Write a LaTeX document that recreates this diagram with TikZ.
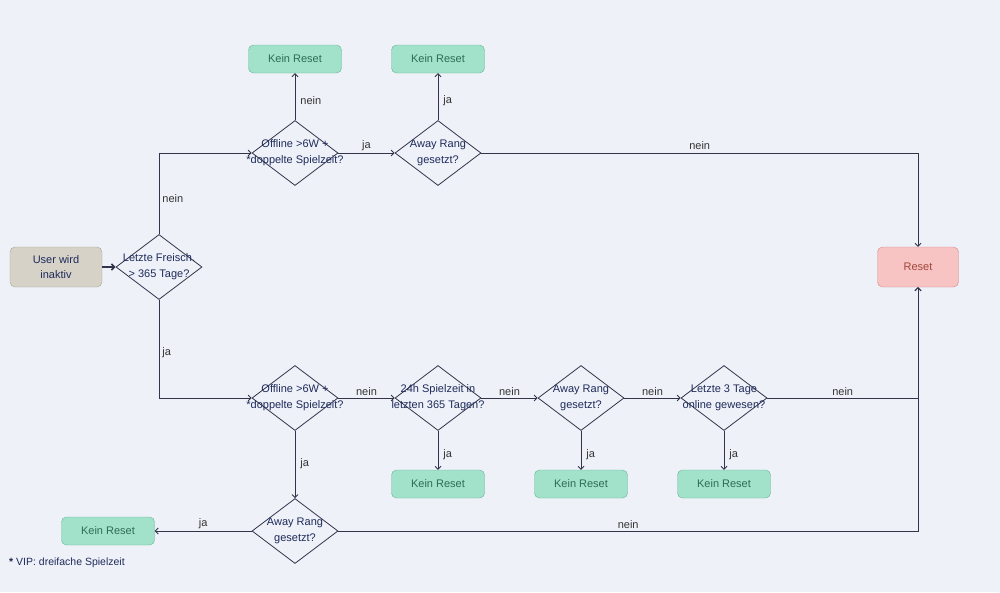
\documentclass[tikz,border=0pt]{standalone}
\usepackage{fontspec}
\setmainfont{Liberation Sans}
\usetikzlibrary{shapes.geometric,arrows.meta}

\definecolor{bgcol}{HTML}{EEF2F8}
\definecolor{linecol}{HTML}{33334A}
\definecolor{navy}{HTML}{1E2A5A}
\definecolor{krfill}{HTML}{A2E2CB}
\definecolor{krdraw}{HTML}{62B492}
\definecolor{krtext}{HTML}{2E6B52}
\definecolor{rsfill}{HTML}{F7C3C3}
\definecolor{rsdraw}{HTML}{CF8A8A}
\definecolor{rstext}{HTML}{A0463A}
\definecolor{stfill}{HTML}{D6D2C8}
\definecolor{stdraw}{HTML}{A8A498}

\tikzset{
  txt/.style={font=\fontsize{11}{15}\selectfont, align=center},
  kein/.style={txt, draw=krdraw, fill=krfill, text=krtext, rounded corners=5pt,
    minimum width=93pt, minimum height=28pt, inner sep=0pt},
  resetbox/.style={txt, draw=rsdraw, fill=rsfill, text=rstext, rounded corners=5pt,
    minimum width=81pt, minimum height=40pt, inner sep=0pt},
  startbox/.style={txt, draw=stdraw, fill=stfill, text=navy, rounded corners=5pt,
    minimum width=92pt, minimum height=40pt, inner sep=0pt},
  dec/.style={shape=diamond, draw=linecol, line width=0.8pt, fill=bgcol,
    minimum width=86pt, minimum height=65pt, inner sep=0pt},
  dtext/.style={txt, font=\fontsize{11}{16}\selectfont, text=navy, inner sep=0pt},
  arr/.style={draw=linecol, line width=0.8pt, -{Straight Barb[length=3pt,width=6pt]}},
  lab/.style={font=\fontsize{11}{13}\selectfont, text=black!80, inner sep=3pt},
}

\begin{document}
\begin{tikzpicture}[x=1pt,y=-1pt]
% Hintergrund
\fill[bgcol] (0,0) rectangle (1000,592);
\useasboundingbox (0,0) rectangle (1000,592);

% Start und erste Entscheidung
\node[startbox] (start) at (56,267) {User wird\\inaktiv};
\node[dec] (freisch) at (159,267) {};
\node[dtext] at (freisch) {Letzte Freisch.\\> 365 Tage?};
\draw[arr, line width=1.6pt] (start) -- (freisch);

% Oberer Zweig
\node[dec] (offA) at (295,153) {};
\node[dtext] at (offA) {Offline >6W +\\*doppelte Spielzeit?};
\node[dec] (awayA) at (438,153) {};
\node[dtext] at (awayA) {Away Rang\\gesetzt?};
\node[kein] (krA) at (295,59) {Kein Reset};
\node[kein] (krB) at (438,59) {Kein Reset};
\node[resetbox] (reset) at (918,267) {Reset};

\draw[arr] (freisch.north) |- (offA.west) node[lab, pos=0.22, right] {nein};
\draw[arr] (offA.north) -- (krA.south) node[lab, midway, right, xshift=2pt, yshift=-4pt] {nein};
\draw[arr] (offA.east) -- (awayA.west) node[lab, midway, above, yshift=-1pt] {ja};
\draw[arr] (awayA.north) -- (krB.south) node[lab, midway, right, xshift=2pt, yshift=-4pt] {ja};
\draw[arr] (awayA.east) -| (reset.north) node[lab, pos=0.25, above] {nein};

% Unterer Zweig
\node[dec] (offB) at (295,398) {};
\node[dtext] at (offB) {Offline >6W +\\*doppelte Spielzeit?};
\node[dec] (spiel) at (438,398) {};
\node[dtext] at (spiel) {24h Spielzeit in\\letzten 365 Tagen?};
\node[dec] (awayB) at (581,398) {};
\node[dtext] at (awayB) {Away Rang\\gesetzt?};
\node[dec] (online) at (724,398) {};
\node[dtext] at (online) {Letzte 3 Tage\\online gewesen?};
\node[dec] (awayC) at (295,531) {};
\node[dtext] at (awayC) {Away Rang\\gesetzt?};
\node[kein] (krC) at (438,484) {Kein Reset};
\node[kein] (krD) at (581,484) {Kein Reset};
\node[kein] (krE) at (724,484) {Kein Reset};
\node[kein] (krF) at (108,531) {Kein Reset};

\draw[arr] (freisch.south) |- (offB.west) node[lab, pos=0.27, right] {ja};
\foreach \a/\b in {offB/spiel, spiel/awayB, awayB/online}
  \draw[arr] (\a.east) -- (\b.west) node[lab, midway, above, yshift=-1pt] {nein};
\foreach \a/\b in {spiel/krC, awayB/krD, online/krE}
  \draw[arr] (\a.south) -- (\b.north) node[lab, midway, right, xshift=2pt, yshift=-4pt] {ja};
\draw[arr] (online.east) -| (reset.south) node[lab, pos=0.25, above, yshift=-1pt] {nein};
\draw[arr] (offB.south) -- (awayC.north) node[lab, midway, right, xshift=2pt, yshift=1pt] {ja};
\draw[arr] (awayC.west) -- (krF.east) node[lab, midway, above, yshift=-1pt] {ja};
\draw[arr] (awayC.east) -| (reset.south) node[lab, pos=0.25, above, yshift=-1pt] {nein};

% Fussnote
\node[anchor=west, text=navy, font=\fontsize{10.5}{12}\selectfont, inner sep=0pt] (fuss)
  at (9,563) {\textbf{*} VIP: dreifache Spielzeit};
\end{tikzpicture}
\end{document}
